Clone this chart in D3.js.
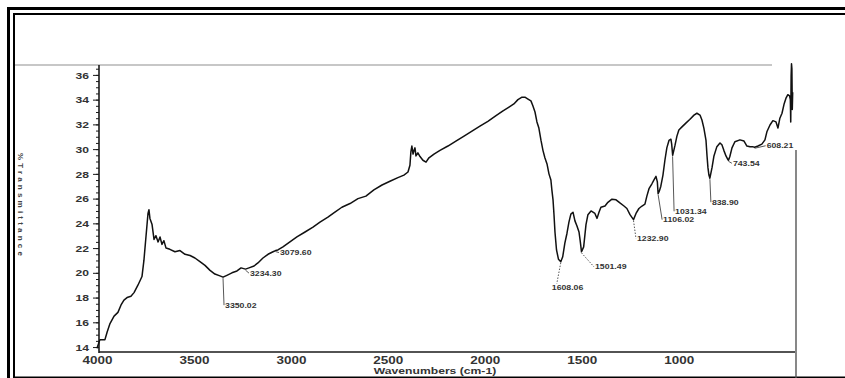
<!DOCTYPE html>
<html>
<head>
<meta charset="utf-8">
<script src="https://cdn.jsdelivr.net/npm/d3@7"></script>
<style>
  body { margin: 0; background: #fff; }
  svg { display: block; }
  text { font-family: "Liberation Sans", Arial, sans-serif; }
</style>
</head>
<body>
<svg id="chart" width="845" height="378"></svg>
<script>
// FTIR spectrum: wavenumber (cm-1) against % transmittance
const wavenumber = [
  4000, 3985, 3959, 3948, 3933, 3912, 3892, 3876, 3861, 3845, 3825, 3809, 3789, 3768, 3758,
  3747, 3737, 3732, 3727, 3716, 3706, 3696, 3685, 3675, 3665, 3655, 3644, 3624, 3598, 3572,
  3546, 3520, 3495, 3469, 3443, 3417, 3392, 3366, 3350, 3330, 3304, 3278, 3257, 3234, 3216,
  3190, 3170, 3144, 3118, 3092, 3079, 3067, 3041, 3005, 2969, 2927, 2886, 2850, 2809, 2773,
  2737, 2695, 2654, 2613, 2572, 2530, 2489, 2448, 2417, 2396, 2386, 2381, 2376, 2370, 2365,
  2360, 2355, 2345, 2334, 2319, 2303, 2288, 2262, 2231, 2190, 2149, 2107, 2066, 2025, 1984,
  1942, 1906, 1875, 1850, 1829, 1808, 1793, 1777, 1762, 1752, 1741, 1731, 1721, 1710, 1700,
  1690, 1679, 1669, 1659, 1654, 1648, 1643, 1638, 1630, 1620, 1608, 1598, 1587, 1576, 1566,
  1556, 1545, 1535, 1525, 1514, 1508, 1501, 1490, 1478, 1468, 1452, 1432, 1421, 1411, 1401,
  1380, 1365, 1344, 1323, 1303, 1282, 1267, 1251, 1233, 1220, 1205, 1189, 1174, 1164, 1153,
  1138, 1128, 1117, 1110, 1106, 1100, 1092, 1081, 1071, 1061, 1050, 1040, 1036, 1031, 1025,
  1019, 1009, 999, 983, 963, 943, 921, 906, 890, 880, 870, 859, 854, 849, 844,
  839, 828, 818, 803, 787, 777, 767, 756, 746, 743, 736, 725, 710, 684, 663,
  648, 632, 620, 608, 591, 571, 555, 545, 529, 514, 498, 488, 478, 467, 457,
  447, 437, 428, 424, 422, 420, 418, 416, 414, 412
];
const transmittance = [
  13.9, 14.6, 14.6, 15.2, 15.9, 16.5, 16.8, 17.4, 17.8, 18.0, 18.1, 18.4, 19.0, 19.7, 21.0,
  23.0, 24.8, 25.1, 24.4, 23.9, 22.7, 23.0, 22.5, 22.9, 22.3, 22.6, 22.0, 21.9, 21.7, 21.8,
  21.5, 21.4, 21.2, 20.9, 20.6, 20.2, 19.9, 19.75, 19.65, 19.8, 20.0, 20.15, 20.4, 20.3, 20.4,
  20.55, 20.8, 21.2, 21.5, 21.7, 21.8, 21.85, 22.1, 22.5, 22.9, 23.3, 23.7, 24.1, 24.5, 24.9,
  25.3, 25.6, 26.0, 26.2, 26.7, 27.1, 27.4, 27.7, 27.9, 28.15, 28.7, 29.8, 30.25, 29.6, 29.9,
  30.1, 29.45, 29.7, 29.4, 29.1, 28.95, 29.3, 29.6, 29.9, 30.25, 30.65, 31.05, 31.45, 31.85, 32.25,
  32.7, 33.1, 33.4, 33.65, 34.0, 34.2, 34.2, 34.05, 33.9, 33.5, 33.0, 32.2, 31.7, 30.7, 29.9,
  29.3, 28.8, 28.0, 27.5, 26.7, 25.9, 24.7, 23.3, 21.85, 21.1, 20.9, 21.3, 22.4, 23.2, 24.1,
  24.75, 24.9, 24.2, 23.8, 23.3, 22.6, 21.7, 22.1, 23.9, 24.7, 25.0, 24.8, 24.4, 24.9, 25.3,
  25.4, 25.7, 25.95, 25.9, 25.65, 25.4, 25.2, 24.7, 24.3, 24.8, 25.2, 25.4, 25.55, 26.2, 26.8,
  27.2, 27.5, 27.8, 27.35, 26.4, 26.6, 27.0, 27.9, 29.1, 30.1, 30.7, 30.8, 30.4, 29.5, 29.9,
  30.3, 31.05, 31.55, 31.8, 32.1, 32.4, 32.75, 32.9, 32.75, 32.35, 31.7, 30.7, 29.5, 28.5, 27.9,
  27.65, 28.5, 29.45, 30.2, 30.5, 30.35, 29.9, 29.45, 29.15, 29.1, 29.4, 30.1, 30.6, 30.75, 30.65,
  30.25, 30.2, 30.2, 30.15, 30.25, 30.4, 30.75, 31.4, 31.95, 32.3, 32.2, 31.7, 32.5, 32.9, 33.6,
  34.1, 34.4, 34.3, 34.0, 32.2, 35.9, 36.9, 36.5, 33.2, 34.6
];

// Axis tick values and titles
const xTicks = [4000, 3500, 3000, 2500, 2000, 1500, 1000];
const yTicks = [14, 16, 18, 20, 22, 24, 26, 28, 30, 32, 34, 36];
const xTitle = "Wavenumbers (cm-1)";
const yTitle = "%Transmittance";

// Peak annotations
const peakPositions = [3350.02, 3234.30, 3079.60, 1608.06, 1501.49, 1232.90, 1106.02, 1031.34, 838.90, 743.54, 608.21];
const peakLabels = ["3350.02", "3234.30", "3079.60", "1608.06", "1501.49", "1232.90", "1106.02", "1031.34", "838.90", "743.54", "608.21"];

// Label placement relative to each peak (pixels): drop below the trace, horizontal offset of text
const labelDrop = [28, 4, 2, 26, 15, 19, 26, 56, 24, 3, -1.5];
const labelShift = [2, 4.5, 4.5, -9, 13.5, 3.5, 5, 2.5, 2, 4.5, 12];
const dashedLeader = [false, false, false, true, true, true, false, false, false, false, false];

const svg = d3.select("#chart");
const W = 845, H = 378;

const x = d3.scaleLinear().domain([4000, 400]).range([97, 795]);
const y = d3.scaleLinear().domain([13.6, 36.8]).range([352, 65]);

const ink = "#1a1a1a";
const stretch = 1.35;

// ---- page frame ----
const frame = svg.append("g");
frame.append("rect").attr("x", 8.5).attr("y", 8.5).attr("width", W).attr("height", H)
  .attr("fill", "none").attr("stroke", "#000").attr("stroke-width", 3);
frame.append("rect").attr("x", 14).attr("y", 14).attr("width", W).attr("height", 363.5)
  .attr("fill", "none").attr("stroke", "#000").attr("stroke-width", 2);

// top border of the plot region and right edge
frame.append("line").attr("x1", 15).attr("x2", 772).attr("y1", 65).attr("y2", 65)
  .attr("stroke", "#b5b5b5").attr("stroke-width", 1.5);
frame.append("line").attr("x1", 796).attr("x2", 796).attr("y1", 150).attr("y2", H)
  .attr("stroke", "#555").attr("stroke-width", 1.4);

// ---- y axis ----
const yAxisG = svg.append("g").attr("transform", `translate(${x(4000) + 2},0)`);
yAxisG.call(d3.axisLeft(y).tickValues(d3.range(14, 36.6, 0.5)).tickSize(3).tickFormat(""));
yAxisG.call(g => g.selectAll("path").remove());
yAxisG.selectAll("line").attr("stroke", ink).attr("stroke-width", 1);

const yMajor = svg.append("g").attr("transform", `translate(${x(4000) + 2},0)`);
yMajor.call(d3.axisLeft(y).tickValues(yTicks).tickSize(6).tickPadding(4).tickFormat(d3.format("d")));
yMajor.select("path").remove();
yMajor.selectAll("line").attr("stroke", ink).attr("stroke-width", 1);
yMajor.selectAll("text")
  .attr("x", null).attr("dy", "0.35em")
  .attr("transform", `translate(-10,0) scale(${stretch},1)`)
  .attr("text-anchor", "end")
  .attr("font-size", 9).attr("font-weight", "bold").attr("fill", "#333");

svg.append("line")
  .attr("x1", x(4000) + 2).attr("x2", x(4000) + 2).attr("y1", 65).attr("y2", 353)
  .attr("stroke", ink).attr("stroke-width", 1.6);

// ---- x axis ----
const xAxisG = svg.append("g").attr("transform", `translate(0,${y(13.6)})`);
xAxisG.call(d3.axisBottom(x).tickValues(xTicks).tickSize(0).tickPadding(6).tickFormat(d3.format("d")));
xAxisG.select("path").remove();
xAxisG.selectAll("text")
  .attr("y", null).attr("dy", null)
  .attr("transform", `translate(0,11.5) scale(${stretch},1)`)
  .attr("font-size", 10).attr("font-weight", "bold").attr("fill", "#333");

svg.append("line")
  .attr("x1", x(4000) + 2).attr("x2", x(400)).attr("y1", y(13.6)).attr("y2", y(13.6))
  .attr("stroke", ink).attr("stroke-width", 1.6);

// axis titles
svg.append("text")
  .attr("transform", `translate(435,373.8) scale(${stretch},1)`)
  .attr("text-anchor", "middle").attr("font-size", 9).attr("font-weight", "bold")
  .attr("fill", "#333").text(xTitle);

svg.append("text")
  .attr("transform", "translate(18,206) rotate(90)")
  .attr("text-anchor", "middle").attr("font-size", 8).attr("font-weight", "bold")
  .attr("letter-spacing", 3.2).attr("fill", "#444").text(yTitle);

// ---- spectrum trace ----
const points = wavenumber.map((w, i) => [w, transmittance[i]]);
svg.append("path")
  .datum(points)
  .attr("fill", "none")
  .attr("stroke", "#111")
  .attr("stroke-width", 1.5)
  .attr("stroke-linejoin", "round")
  .attr("d", d3.line().x(d => x(d[0])).y(d => y(d[1])));

// ---- peak annotations ----
const nearestT = wn => {
  let best = 0;
  wavenumber.forEach((w, i) => { if (Math.abs(w - wn) < Math.abs(wavenumber[best] - wn)) best = i; });
  return transmittance[best];
};

const ann = svg.append("g");
peakPositions.forEach((wn, i) => {
  const px = x(wn), py = y(nearestT(wn));
  const ty = py + labelDrop[i];
  const tx = px + labelShift[i];
  ann.append("line")
    .attr("x1", px).attr("y1", py + 1)
    .attr("x2", labelShift[i] < 0 ? px - 4 : tx - 1).attr("y2", ty - (labelShift[i] < 0 ? 4 : 0))
    .attr("stroke", "#444").attr("stroke-width", 0.9)
    .attr("stroke-dasharray", dashedLeader[i] ? "1.5,1.5" : null);
  ann.append("text")
    .attr("transform", `translate(${tx},${ty}) scale(1.25,1)`)
    .attr("dy", "0.35em")
    .attr("font-size", 7).attr("font-weight", "bold").attr("fill", "#333")
    .text(peakLabels[i]);
});
</script>
</body>
</html>
